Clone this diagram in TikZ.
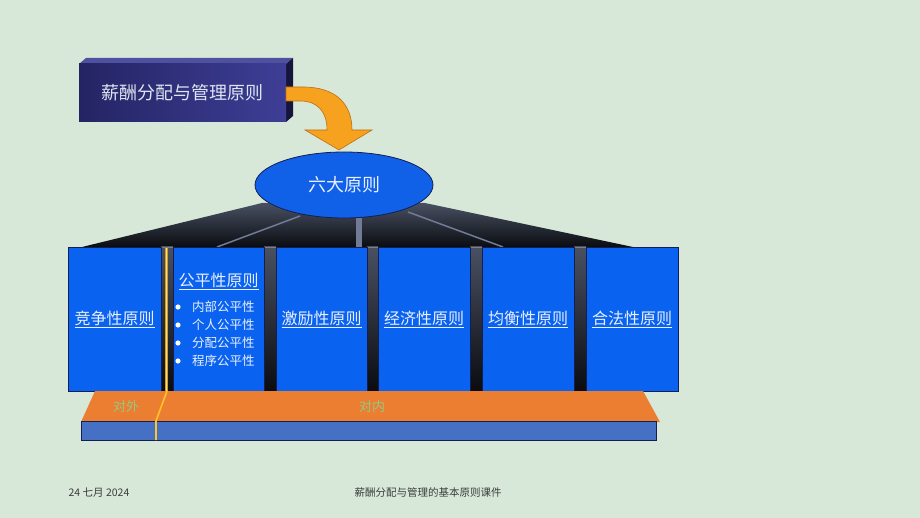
\documentclass[tikz,border=0pt]{standalone}
\usepackage{fontspec}
\setmainfont{Noto Sans CJK SC}
\usetikzlibrary{shapes.geometric}
\definecolor{bg}{RGB}{215,232,217}
\definecolor{navyA}{RGB}{36,36,100}
\definecolor{navyB}{RGB}{62,62,150}
\definecolor{navyD}{RGB}{22,22,60}
\definecolor{navyT}{RGB}{80,80,160}
\definecolor{arroworange}{RGB}{246,162,30}
\definecolor{arrowedge}{RGB}{190,110,20}
\definecolor{eblue}{RGB}{16,96,232}
\definecolor{bblue}{RGB}{10,98,240}
\definecolor{edgenavy}{RGB}{20,30,80}
\definecolor{fantop}{RGB}{72,80,98}
\definecolor{fanbot}{RGB}{10,12,16}
\definecolor{ray}{RGB}{112,124,150}
\definecolor{platorange}{RGB}{236,126,50}
\definecolor{barblue}{RGB}{70,112,196}
\definecolor{divyellow}{RGB}{255,196,40}
\definecolor{labgreen}{RGB}{150,200,130}
\definecolor{boxtext}{RGB}{232,240,255}
\definecolor{foot}{RGB}{60,60,60}
\tikzset{
  pbox/.style={draw=edgenavy, line width=0.6pt, fill=bblue, inner sep=0pt,
    minimum height=144pt, text=boxtext, font=\fontsize{16}{18}\selectfont},
  pillar/.style={top color=fantop, bottom color=fanbot},
  bullettext/.style={anchor=west, text=boxtext, inner sep=0pt, font=\fontsize{12.5}{14}\selectfont},
  platlabel/.style={text=labgreen, font=\fontsize{13}{15}\selectfont},
  footlabel/.style={text=foot, font=\fontsize{10.5}{12}\selectfont}
}
\begin{document}
\begin{tikzpicture}[x=1pt,y=-1pt]
\useasboundingbox (0,0) rectangle (920,518);
\fill[bg] (0,0) rectangle (920,518);

% title box (3D)
\fill[navyT] (79,64) -- (86,58) -- (293,58) -- (286,64) -- cycle;
\fill[navyD] (286,64) -- (293,58) -- (293,116) -- (286,122) -- cycle;
\shade[left color=navyA, right color=navyB] (79,64) rectangle (286,122);
\node[text=boxtext!90!gray, font=\fontsize{18}{20}\selectfont] (title) at (182,93) {薪酬分配与管理原则};

% dark fan
\shade[top color=fantop, bottom color=fanbot] (82,247) -- (262,203) -- (425,203) -- (633,247) -- cycle;
\draw[ray, line width=1.5pt] (300,216) -- (217,247);
\fill[ray] (356,216) rectangle (362,247);
\draw[ray, line width=1.5pt] (408,212) -- (503,247);

% ellipse
\node[ellipse, draw=edgenavy, line width=0.8pt, fill=eblue, minimum width=178pt, minimum height=66pt,
  inner sep=0pt, text=boxtext, font=\fontsize{18}{20}\selectfont] (six) at (344,185) {六大原则};

% orange arrow
\filldraw[fill=arroworange, draw=arrowedge, line width=0.6pt]
  (286,87) -- (303,87) .. controls (336,87) and (352,104) .. (352,130) -- (372,130) -- (339,150)
  -- (305,130) -- (327,130) .. controls (327,112) and (318,101) .. (300,101) -- (286,101) -- cycle;

% pillars
\foreach \a/\b in {161/173, 264/276, 367/378, 470/482, 574/586}{
  \shade[pillar] (\a,247) rectangle (\b,391);
}
\draw[gray, line width=0.8pt] (68,247) -- (678,247);
\draw[divyellow!80!black, line width=3pt] (166.5,248) -- (166.5,391);
\draw[divyellow!60!white, line width=1.2pt] (166.5,248) -- (166.5,391);

% boxes
\node[pbox, minimum width=93pt] (b1) at (114.5,319) {\underline{竞争性原则}};
\node[pbox, minimum width=91pt] (b2) at (218.5,319) {};
\node[pbox, minimum width=91pt] (b3) at (321.5,319) {\underline{激励性原则}};
\node[pbox, minimum width=92pt] (b4) at (424,319) {\underline{经济性原则}};
\node[pbox, minimum width=92pt] (b5) at (528,319) {\underline{均衡性原则}};
\node[pbox, minimum width=92pt] (b6) at (632,319) {\underline{合法性原则}};

\node[text=boxtext, font=\fontsize{16}{18}\selectfont] (b2t) at (218.5,281) {\underline{公平性原则}};
\foreach \y/\t [count=\i] in {307/内部公平性, 325/个人公平性, 343/分配公平性, 361/程序公平性}{
  \fill[white] (178,\y) circle (2.6pt);
  \node[bullettext] (bl\i) at (192,\y) {\t};
}

% platform
\fill[platorange] (95,391) -- (643,391) -- (660,422) -- (81,422) -- cycle;
\draw[edgenavy, line width=0.8pt, fill=barblue] (81,421) rectangle (656,440);
\draw[divyellow, line width=1.6pt] (167,391) -- (156,421) -- (156,440);
\node[platlabel] (outer) at (126,407) {对外};
\node[platlabel] (inner) at (372,407) {对内};

% footer
\node[footlabel] (date) at (99,493) {24 七月 2024};
\node[footlabel] (foottitle) at (428,493) {薪酬分配与管理的基本原则课件};
\end{tikzpicture}
\end{document}
